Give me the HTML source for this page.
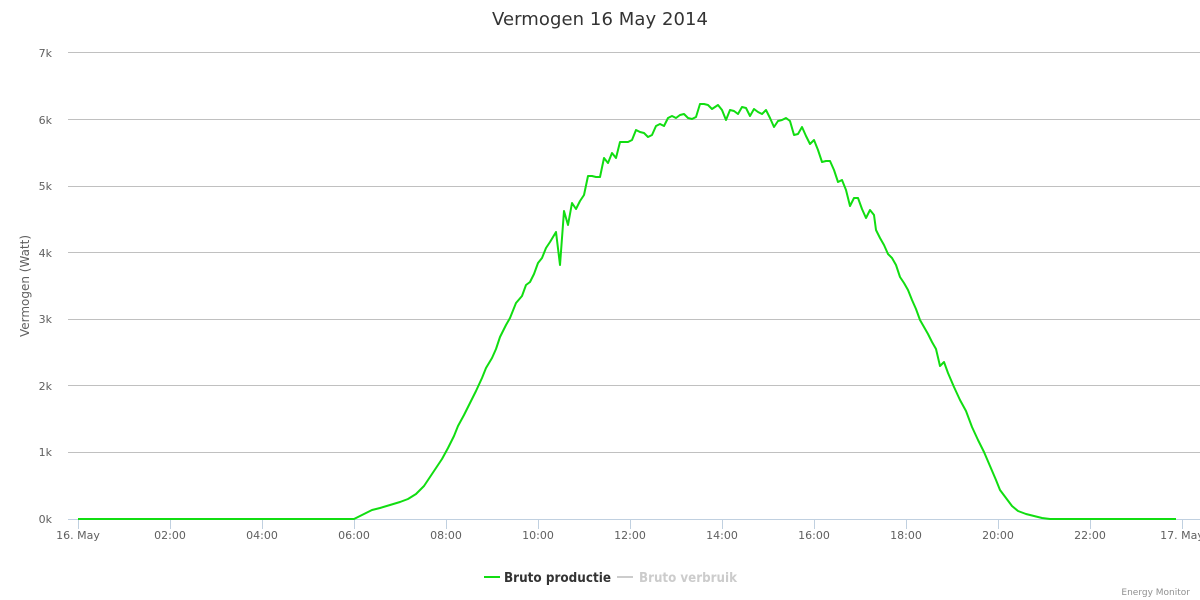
<!DOCTYPE html>
<html><head><meta charset="utf-8"><style>
html,body{margin:0;padding:0;background:#fff;width:1200px;height:600px;overflow:hidden}
svg text{font-family:"DejaVu Sans","Liberation Sans",sans-serif}
</style></head><body>
<svg width="1200" height="600" xmlns="http://www.w3.org/2000/svg">
<text x="600" y="25" text-anchor="middle" font-size="18" fill="#333" textLength="216">Vermogen 16 May 2014</text>
<g stroke="#c0c0c0" stroke-width="1">
<line x1="68" y1="52.5" x2="1200" y2="52.5"/>
<line x1="68" y1="119.5" x2="1200" y2="119.5"/>
<line x1="68" y1="186.5" x2="1200" y2="186.5"/>
<line x1="68" y1="252.5" x2="1200" y2="252.5"/>
<line x1="68" y1="319.5" x2="1200" y2="319.5"/>
<line x1="68" y1="385.5" x2="1200" y2="385.5"/>
<line x1="68" y1="452.5" x2="1200" y2="452.5"/>
</g>
<line x1="68" y1="519.5" x2="1200" y2="519.5" stroke="#c0d0e0"/>
<g stroke="#c0d0e0">
<line x1="78.5" y1="519" x2="78.5" y2="529"/><line x1="170.5" y1="519" x2="170.5" y2="529"/>
<line x1="262.5" y1="519" x2="262.5" y2="529"/><line x1="354.5" y1="519" x2="354.5" y2="529"/>
<line x1="446.5" y1="519" x2="446.5" y2="529"/><line x1="538.5" y1="519" x2="538.5" y2="529"/>
<line x1="630.5" y1="519" x2="630.5" y2="529"/><line x1="722.5" y1="519" x2="722.5" y2="529"/>
<line x1="814.5" y1="519" x2="814.5" y2="529"/><line x1="906.5" y1="519" x2="906.5" y2="529"/>
<line x1="998.5" y1="519" x2="998.5" y2="529"/><line x1="1090.5" y1="519" x2="1090.5" y2="529"/>
<line x1="1182.5" y1="519" x2="1182.5" y2="529"/>
</g>
<g font-size="11" fill="#606060" text-anchor="end">
<text x="52" y="57">7k</text><text x="52" y="124">6k</text><text x="52" y="190">5k</text>
<text x="52" y="257">4k</text><text x="52" y="323">3k</text><text x="52" y="390">2k</text>
<text x="52" y="456">1k</text><text x="52" y="523">0k</text>
</g>
<g font-size="11" fill="#606060" text-anchor="middle">
<text x="78" y="539">16. May</text><text x="170" y="539">02:00</text><text x="262" y="539">04:00</text>
<text x="354" y="539">06:00</text><text x="446" y="539">08:00</text><text x="538" y="539">10:00</text>
<text x="630" y="539">12:00</text><text x="722" y="539">14:00</text><text x="814" y="539">16:00</text>
<text x="906" y="539">18:00</text><text x="998" y="539">20:00</text><text x="1090" y="539">22:00</text>
<text x="1182" y="539">17. May</text>
</g>
<text transform="translate(29,286) rotate(-90)" text-anchor="middle" font-size="12" fill="#606060">Vermogen (Watt)</text>
<polyline fill="none" stroke="#11dd11" stroke-width="2" stroke-linejoin="round" points="78,519 354,519 360,516 366,513 372,510 380,508 390,505 400,502 408,499 416,494 424,486 430,477 436,468 442,459 448,448 454,436 458,426 464,415 470,403 476,391 482,378 486,368 492,358 496,349 500,337 506,325 510,318 516,303 522,296 526,285 530,282 534,274 538,263 542,258 546,248 550,242 556,232 560,265 564,211 568,225 572,203 576,209 580,201 584,195 588,176 592,176 596,177 600,177 604,158 608,163 612,153 616,158 620,142 624,142 628,142 632,140 636,130 640,132 644,133 648,137 652,135 656,126 660,124 664,126 668,118 672,116 676,118 680,115 684,114 688,118 692,119 696,117 700,104 704,104 708,105 712,109 718,105 722,110 726,120 730,110 734,111 738,114 742,107 746,108 750,116 754,109 758,112 762,114 766,110 770,118 774,127 778,121 782,120 786,118 790,121 794,135 798,134 802,127 806,136 810,144 814,140 818,150 822,162 826,161 830,161 834,170 838,182 842,180 846,190 850,206 854,198 858,198 862,209 866,218 870,210 874,215 876,230 880,238 884,245 888,254 892,258 896,265 900,277 904,283 908,290 912,300 916,309 920,320 924,327 928,334 932,342 936,349 940,366 944,362 948,373 954,387 960,400 966,411 972,427 978,440 984,452 990,466 996,480 1000,490 1006,498 1012,506 1018,511 1026,514 1034,516 1042,518 1050,519 1060,519 1176,519"/>
<line x1="484" y1="577" x2="500" y2="577" stroke="#11dd11" stroke-width="2"/>
<text x="504" y="582" font-size="13" font-weight="bold" fill="#333" textLength="107" lengthAdjust="spacingAndGlyphs">Bruto productie</text>
<line x1="617" y1="577" x2="633" y2="577" stroke="#cccccc" stroke-width="2"/>
<text x="639" y="582" font-size="13" font-weight="bold" fill="#cccccc" textLength="98" lengthAdjust="spacingAndGlyphs">Bruto verbruik</text>
<text x="1190" y="595" text-anchor="end" font-size="9" fill="#909090">Energy Monitor</text>
</svg>
</body></html>
